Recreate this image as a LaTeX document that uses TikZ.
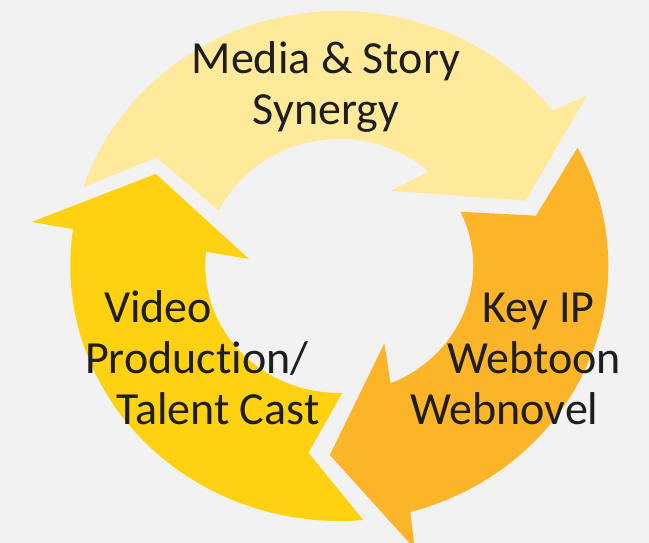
\documentclass[tikz,border=0pt]{standalone}
\usepackage{fontspec}
\setmainfont[Ligatures=NoCommon]{Carlito}
\usepackage{tikz}

\definecolor{bgcol}{HTML}{F2F2F2}
\definecolor{paleyellow}{HTML}{FFE99B}
\definecolor{sunyellow}{HTML}{FFD211}
\definecolor{amber}{HTML}{FCB428}
\definecolor{txtcol}{HTML}{1E1E1E}

\begin{document}
\begin{tikzpicture}[x=1pt, y=1pt, label/.style={font=\fontsize{46}{51}\selectfont, text=txtcol, inner sep=0pt, align=left}]
            % Background
            \fill[bgcol] (0,0) rectangle (649,543);
            \useasboundingbox (0,0) rectangle (649,543);

            % Draw arrows
            \begin{scope}[shift={(339.3,277)}, xscale=1.055]
            \fill[paleyellow] (162:255) arc[start angle=162, end angle=37.55, radius=255] -- (36:290) -- (20.3:188.4) -- (57.1:89.7) -- (48:127) arc[start angle=48, end angle=154.1, radius=127] -- (147.9:204.4) -- cycle;
            \fill[amber] (27.65:255) arc[start angle=27.65, end angle=-74.7, radius=255] -- (-75.8:292) -- (-92.7:189.2) -- (-61.1:88.3) -- (-67.5:127) arc[start angle=-67.5, end angle=25.3, radius=127] -- (15.1:193.1) -- cycle;
            \fill[sunyellow] (275.1:255) arc[start angle=275.1, end angle=171.7, radius=255] -- (171.4:294.9) -- (152.1:196.8) -- (175.3:85.9) -- (173.6:127) arc[start angle=173.6, end angle=271.3, radius=127] -- (261.1:189) -- cycle;
            \end{scope}

            % Labels
            \node (synergy) [label, align=center, anchor=base] at (326,418) {Media \& Story\\Synergy};
            \node (video) [label, anchor=base west] at (85,118) {\hspace*{19pt}Video\\Production/\\\hspace*{31pt}Talent Cast};
            \node (keyip) [label, anchor=base west] at (410,118) {\hspace*{72pt}Key IP\\\hspace*{37pt}Webtoon\\Webnovel};
\end{tikzpicture}
\end{document}
